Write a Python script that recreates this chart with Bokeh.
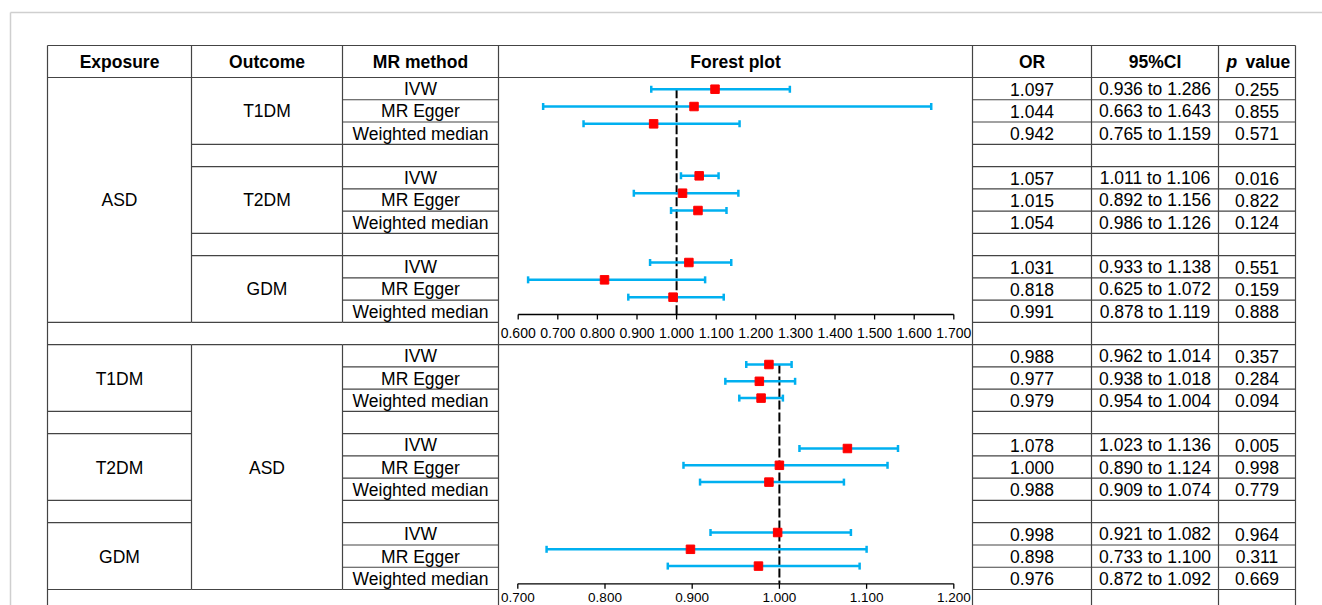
from bokeh.plotting import figure
from bokeh.models import Range1d
from bokeh.core.properties import value
from bokeh.embed import file_html
from bokeh.resources import INLINE

# ---------------- data ----------------
methods = ["IVW", "MR Egger", "Weighted median"]
headers = ["Exposure", "Outcome", "MR method", "Forest plot", "OR", "95%CI"]

top_exposure = "ASD"
top_outcomes = ["T1DM", "T2DM", "GDM"]
top_or = [1.097, 1.044, 0.942, 1.057, 1.015, 1.054, 1.031, 0.818, 0.991]
top_lo = [0.936, 0.663, 0.765, 1.011, 0.892, 0.986, 0.933, 0.625, 0.878]
top_hi = [1.286, 1.643, 1.159, 1.106, 1.156, 1.126, 1.138, 1.072, 1.119]
top_p = ["0.255", "0.855", "0.571", "0.016", "0.822", "0.124", "0.551", "0.159", "0.888"]
top_ticks = [0.6, 0.7, 0.8, 0.9, 1.0, 1.1, 1.2, 1.3, 1.4, 1.5, 1.6, 1.7]

bot_exposures = ["T1DM", "T2DM", "GDM"]
bot_outcome = "ASD"
bot_or = [0.988, 0.977, 0.979, 1.078, 1.000, 0.988, 0.998, 0.898, 0.976]
bot_lo = [0.962, 0.938, 0.954, 1.023, 0.890, 0.909, 0.921, 0.733, 0.872]
bot_hi = [1.014, 1.018, 1.004, 1.136, 1.124, 1.074, 1.082, 1.100, 1.092]
bot_p = ["0.357", "0.284", "0.094", "0.005", "0.998", "0.779", "0.964", "0.311", "0.669"]
bot_ticks = [0.7, 0.8, 0.9, 1.0, 1.1, 1.2]

# ---------------- layout ----------------
W, H = 1322, 605
cols = [47, 191, 342, 498, 972, 1091, 1218, 1295]
table_top, header_bot = 45, 77
row_h = (589 - 77) / 23.0
FONT = value("Liberation Sans")
FS = "17.5px"
LINE = "#444444"
BLUE = "#00B0F0"
RED = "#FF0000"


def r(i):
    return header_bot + i * row_h


def ccenter(c):
    return (cols[c] + cols[c + 1]) / 2.0


# forest panel geometry (pixel anchors)
panels = [
    dict(v0=0.6, x0=517.7, s=396.0, y0=88.7, step=17.33, axis_y=314.0,
         lab_dy=18.5, lab_fs="14px",
         orv=top_or, lo=top_lo, hi=top_hi, ticks=top_ticks),
    dict(v0=0.7, x0=517.3, s=872.0, y0=364.0, step=16.8, axis_y=583.3,
         lab_dy=13.5, lab_fs="13.5px",
         orv=bot_or, lo=bot_lo, hi=bot_hi, ticks=bot_ticks),
]

p = figure(width=W, height=H, x_range=Range1d(0, W), y_range=Range1d(H, 0),
           output_backend="svg", toolbar_location=None, min_border=0,
           outline_line_color=None, background_fill_color="white",
           border_fill_color="white")
p.axis.visible = False
p.xgrid.visible = False
p.ygrid.visible = False

for k, pn in enumerate(panels):
    p.extra_x_ranges["f%d" % k] = Range1d(pn["v0"] - pn["x0"] / pn["s"],
                                          pn["v0"] + (W - pn["x0"]) / pn["s"])
    p.extra_y_ranges["s%d" % k] = Range1d((H - pn["y0"]) / pn["step"],
                                          -pn["y0"] / pn["step"])

# page border (light gray)
p.segment(x0=[10, 10], y0=[12, 12], x1=[W, 10], y1=[12, H],
          line_color="#cfcfcf", line_width=1.5)

# ---------------- table lines ----------------
hx0, hy0, hx1, hy1 = [], [], [], []


def hline(xa, xb, y):
    hx0.append(xa); hx1.append(xb); hy0.append(y); hy1.append(y)


hline(cols[0], cols[-1], table_top)
hline(cols[0], cols[-1], header_bot)
# exposure column
for i in [11, 12, 15, 16, 19, 20, 23]:
    hline(cols[0], cols[1], r(i))
# outcome column
for i in [3, 4, 7, 8, 11, 12, 23]:
    hline(cols[1], cols[2], r(i))
# MR method column and value columns: every row
for i in range(1, 24):
    hline(cols[2], cols[3], r(i))
    hline(cols[4], cols[7], r(i))
# forest column separator between panels
hline(cols[3], cols[4], r(12))
p.segment(x0=hx0, y0=hy0, x1=hx1, y1=hy1, line_color=LINE, line_width=1.2)

vx, vy0, vy1 = [], [], []
for c in [0, 3, 4, 5, 6, 7]:
    vx.append(cols[c]); vy0.append(table_top); vy1.append(H)
for c in [1, 2]:
    vx += [cols[c], cols[c]]
    vy0 += [table_top, r(12)]
    vy1 += [r(11), r(23)]
p.segment(x0=vx, y0=vy0, x1=vx, y1=vy1, line_color=LINE, line_width=1.2)

# ---------------- header texts ----------------
p.text(x=[ccenter(c) for c in range(6)], y=[(table_top + header_bot) / 2] * 6,
       text=headers, text_font=FONT, text_font_size=FS, text_font_style="bold",
       text_align="center", text_baseline="middle", text_color="black")
p.text(x=[1226], y=[(table_top + header_bot) / 2], text=["p"], text_font=FONT,
       text_font_size=FS, text_font_style="bold italic", text_align="left",
       text_baseline="middle", text_color="black")
p.text(x=[1245], y=[(table_top + header_bot) / 2], text=["value"], text_font=FONT,
       text_font_size=FS, text_font_style="bold", text_align="left",
       text_baseline="middle", text_color="black")

# ---------------- body texts ----------------
tx, ty, tt = [], [], []
# section 1
tx.append(ccenter(0)); ty.append((r(0) + r(11)) / 2); tt.append(top_exposure)
for g, name in enumerate(top_outcomes):
    tx.append(ccenter(1)); ty.append((r(g * 4) + r(g * 4 + 3)) / 2); tt.append(name)
# section 2
tx.append(ccenter(1)); ty.append((r(12) + r(23)) / 2); tt.append(bot_outcome)
for g, name in enumerate(bot_exposures):
    tx.append(ccenter(0)); ty.append((r(12 + g * 4) + r(12 + g * 4 + 3)) / 2); tt.append(name)

sections = [(0, top_or, top_lo, top_hi, top_p), (12, bot_or, bot_lo, bot_hi, bot_p)]
for base, orv, lo, hi, pv in sections:
    for g in range(3):
        for m in range(3):
            j = g * 3 + m
            yc = (r(base + g * 4 + m) + r(base + g * 4 + m + 1)) / 2
            tx += [ccenter(2), ccenter(4), ccenter(5), ccenter(6)]
            ty += [yc] * 4
            tt += [methods[m], "%.3f" % orv[j],
                   "%.3f to %.3f" % (lo[j], hi[j]), pv[j]]
p.text(x=tx, y=[v + 0.5 for v in ty], text=tt, text_font=FONT, text_font_size=FS,
       text_align="center", text_baseline="middle", text_color="black")

# ---------------- forest plots ----------------
for k, pn in enumerate(panels):
    xr, yr = "f%d" % k, "s%d" % k
    slots = [g * 5 + m for g in range(3) for m in range(3)]
    # reference line at 1
    p.segment(x0=[1.0], y0=[pn["y0"]], x1=[1.0], y1=[pn["axis_y"]],
              x_range_name=xr, line_color="black", line_width=2,
              line_dash="9 3")
    # CI bars
    p.segment(x0=pn["lo"], y0=slots, x1=pn["hi"], y1=slots,
              x_range_name=xr, y_range_name=yr, line_color=BLUE, line_width=2.5)
    p.rect(x=pn["lo"] + pn["hi"], y=slots + slots, width=2.5, height=7,
           width_units="screen", height_units="screen",
           x_range_name=xr, y_range_name=yr, fill_color=BLUE, line_color=None)
    p.scatter(x=pn["orv"], y=slots, marker="square", size=8.5,
              x_range_name=xr, y_range_name=yr, fill_color=RED, line_color=RED)
    # axis
    t = pn["ticks"]
    p.segment(x0=[t[0]], y0=[pn["axis_y"]], x1=[t[-1]], y1=[pn["axis_y"]],
              x_range_name=xr, line_color="black", line_width=1.3)
    p.segment(x0=t, y0=[pn["axis_y"]] * len(t), x1=t, y1=[pn["axis_y"] + 5] * len(t),
              x_range_name=xr, line_color="black", line_width=1.3)
    p.text(x=t, y=[pn["axis_y"] + pn["lab_dy"]] * len(t), text=["%.3f" % v for v in t],
           x_range_name=xr, text_font=FONT, text_font_size=pn["lab_fs"],
           text_align="center", text_baseline="middle", text_color="black")

open("out.html", "w").write(file_html(p, INLINE))
